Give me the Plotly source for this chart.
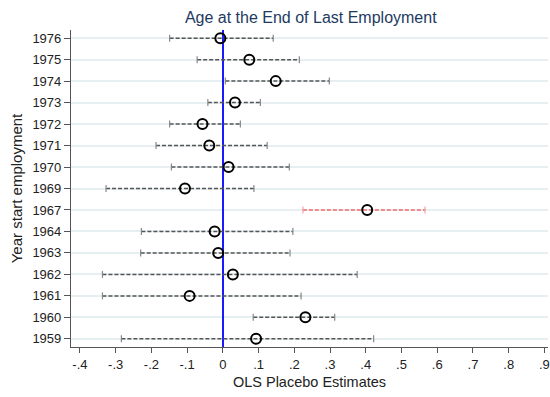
import plotly.graph_objects as go

# placebo start years (bottom to top)
years = ["1959", "1960", "1961", "1962", "1963", "1964", "1967",
         "1969", "1970", "1971", "1972", "1973", "1974", "1975", "1976"]
estimates = [0.093, 0.231, -0.093, 0.028, -0.013, -0.023, 0.404,
             -0.106, 0.016, -0.038, -0.057, 0.034, 0.148, 0.074, -0.007]
ci_low = [-0.284, 0.085, -0.337, -0.337, -0.230, -0.228, 0.224,
          -0.327, -0.144, -0.187, -0.149, -0.042, 0.007, -0.072, -0.149]
ci_high = [0.422, 0.313, 0.219, 0.376, 0.188, 0.196, 0.566,
           0.087, 0.186, 0.124, 0.049, 0.105, 0.298, 0.214, 0.141]
true_year = "1967"

x_ticks = [-0.4, -0.3, -0.2, -0.1, 0, 0.1, 0.2, 0.3, 0.4, 0.5, 0.6, 0.7, 0.8, 0.9]
x_labels = ["-.4", "-.3", "-.2", "-.1", "0", ".1", ".2", ".3", ".4", ".5", ".6", ".7", ".8", ".9"]

fig = go.Figure()

# confidence intervals, dashed with small caps
for yr, lo, hi in zip(years, ci_low, ci_high):
    col = "#f26a6a" if yr == true_year else "#555555"
    capcol = "#f4a0a0" if yr == true_year else "#888888"
    fig.add_trace(go.Scatter(x=[lo, hi], y=[yr, yr], mode="lines",
                             line=dict(color=col, width=1.5, dash="4px,2px"),
                             showlegend=False, hoverinfo="skip"))
    fig.add_trace(go.Scatter(x=[lo, hi], y=[yr, yr], mode="markers",
                             marker=dict(symbol="line-ns-open", size=5, color=capcol,
                                         line=dict(color=capcol, width=1.2)),
                             showlegend=False, hoverinfo="skip"))

# point estimates
fig.add_trace(go.Scatter(x=estimates, y=years, mode="markers",
                         marker=dict(symbol="circle-open", size=10, color="black",
                                     line=dict(color="black", width=2)),
                         showlegend=False))

fig.update_layout(
    width=550, height=397,
    margin=dict(l=71, r=2, t=30, b=50),
    paper_bgcolor="white", plot_bgcolor="white",
    font=dict(family="Liberation Sans, Arial, sans-serif", size=12, color="#222"),
    title=dict(text="Age at the End of Last Employment", x=0.565, xanchor="center",
               y=0.957, yanchor="middle",
               font=dict(size=16, color="#1e3a5f")),
)
fig.update_xaxes(
    range=[-0.425, 0.91], tickvals=x_ticks, ticktext=x_labels, automargin=False,
    ticklabeloverflow="allow",
    showgrid=False, zeroline=True, zerolinecolor="#1a1aff", zerolinewidth=1.5,
    showline=True, linecolor="#555", linewidth=1.2,
    ticks="outside", ticklen=5, tickcolor="#555",
    tickfont=dict(size=13),
    title=dict(text="OLS Placebo Estimates", font=dict(size=14.5), standoff=6),
)
fig.update_yaxes(
    type="category", categoryorder="array", categoryarray=years,
    range=[-0.38, 14.38], automargin=False,
    showgrid=True, gridcolor="#e6f0f2", gridwidth=1.5,
    showline=True, linecolor="#555", linewidth=1.2,
    ticks="outside", ticklen=6, tickcolor="#555",
    tickfont=dict(size=13),
    title=dict(text="Year start employment", font=dict(size=15), standoff=6),
)

# drop the default page margin so the figure fills the window
fig.write_html("out.html", config={"displayModeBar": False},
               post_script="document.body.style.margin='0';")
